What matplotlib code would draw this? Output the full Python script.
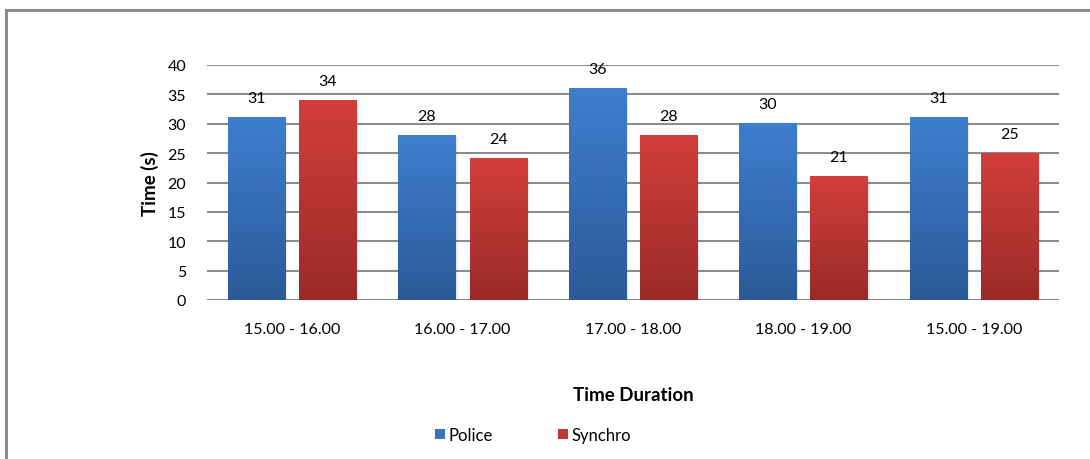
import numpy as np
import matplotlib.pyplot as plt
from matplotlib.lines import Line2D
from matplotlib.patches import Patch

categories = ['15.00 - 16.00', '16.00 - 17.00', '17.00 - 18.00', '18.00 - 19.00', '15.00 - 19.00']
police = [31, 28, 36, 30, 31]
synchro = [34, 24, 28, 21, 25]

plt.rcParams['font.family'] = ['Lato', 'DejaVu Sans']

W, H = 1090, 460
fig = plt.figure(figsize=(W / 100, H / 100), dpi=100)
ax = fig.add_axes([207 / W, 1 - 301 / H, 852 / W, 235 / H])

# outer frame (chart area border)
fig.add_artist(Line2D([6 / W, 6 / W], [0, 1 - 11 / H], color='#8c8c8c', lw=2.2))
fig.add_artist(Line2D([6 / W, 1], [1 - 11 / H, 1 - 11 / H], color='#8c8c8c', lw=2.2))


def gradient_bar(x0, width, height, top, bottom):
    # vertical gradient, lighter on top
    t = np.linspace(0, 1, 256)[:, None]
    top = np.array(top)
    bottom = np.array(bottom)
    img = bottom + (top - bottom) * t
    img = img[:, None, :].repeat(2, axis=1)
    # faint shadow
    ax.bar(x0 + width / 2 + 0.012, height, width, bottom=-0.25, color='#000000',
           alpha=0.08, zorder=2, align='center', linewidth=0)
    ax.imshow(img, extent=[x0, x0 + width, 0, height], origin='lower',
              aspect='auto', zorder=3, interpolation='bilinear')


x = np.arange(len(categories))
bw = 0.335
off = 0.209
blue_top = (0x3e / 255, 0x7e / 255, 0xcf / 255)
blue_bot = (0x2c / 255, 0x5a / 255, 0x98 / 255)
red_top = (0xd2 / 255, 0x3e / 255, 0x3b / 255)
red_bot = (0x9a / 255, 0x2b / 255, 0x28 / 255)

for i in x:
    gradient_bar(i - off - bw / 2, bw, police[i], blue_top, blue_bot)
    gradient_bar(i + off - bw / 2, bw, synchro[i], red_top, red_bot)
    ax.annotate(str(police[i]), (i - off, police[i]), xytext=(0, 9),
                textcoords='offset points', ha='center', va='bottom', fontsize=11.5)
    ax.annotate(str(synchro[i]), (i + off, synchro[i]), xytext=(0, 9),
                textcoords='offset points', ha='center', va='bottom', fontsize=11.5)

ax.set_xlim(-0.5, len(categories) - 0.5)
ax.set_ylim(0, 40)
ax.set_yticks(range(0, 41, 5))
ax.set_xticks(x)
ax.set_xticklabels(categories)
ax.yaxis.grid(True, color='#8c8c8c', lw=1.5)
ax.set_axisbelow(True)
for s in ax.spines.values():
    s.set_visible(False)
ax.tick_params(axis='both', length=0, labelsize=11.5)
ax.tick_params(axis='y', pad=15)
ax.tick_params(axis='x', pad=16)

ax.set_ylabel('Time (s)', fontsize=13.5, fontweight='bold', labelpad=6)
ax.set_xlabel('Time Duration', fontsize=13.5, fontweight='bold', labelpad=36)

handles = [Patch(facecolor='#3a73be', edgecolor='none', label='Police'),
           Patch(facecolor='#be3936', edgecolor='none', label='Synchro')]
fig.legend(handles=handles, loc='center', bbox_to_anchor=(533 / W, 1 - 436 / H),
           ncol=2, frameon=False, fontsize=12, handlelength=0.6, handleheight=0.6,
           handletextpad=0.2, columnspacing=3.9)

fig.savefig('out.png', dpi=100)
